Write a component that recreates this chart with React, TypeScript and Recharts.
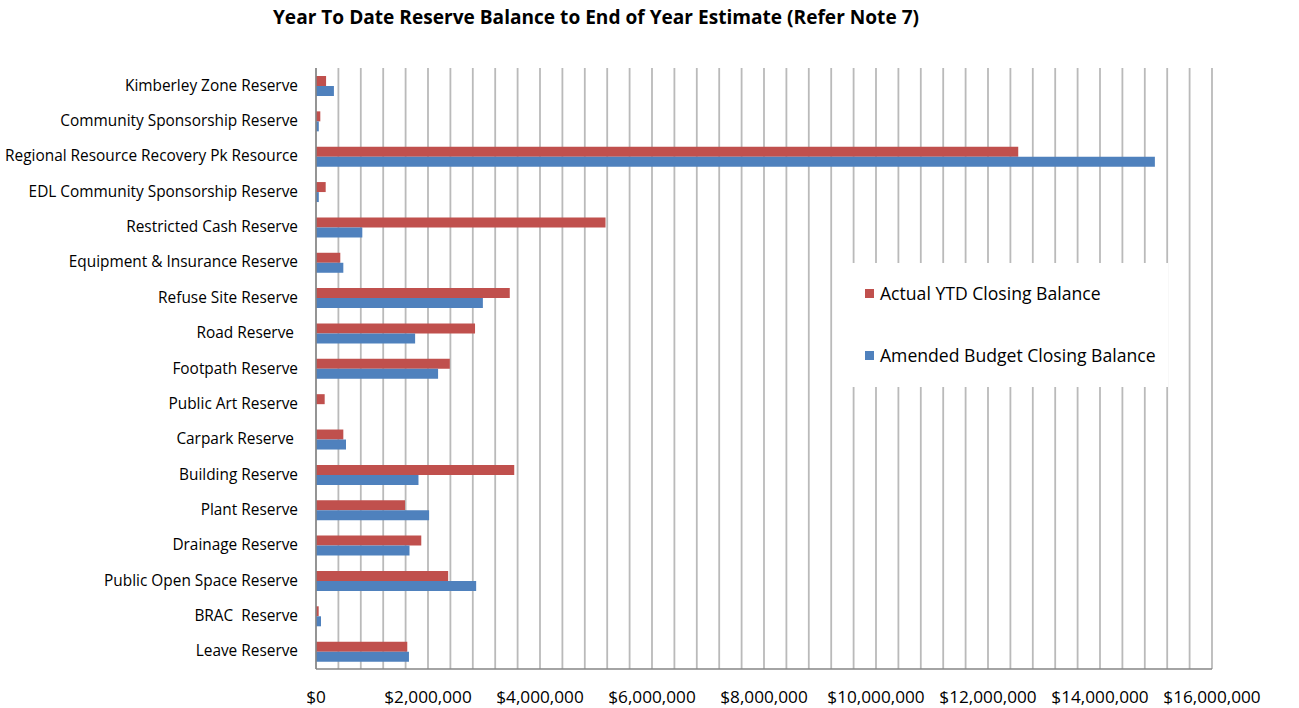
import React from "react";
import { BarChart, Bar, XAxis, YAxis, CartesianGrid } from "recharts";

const categories = [
  "Kimberley Zone Reserve",
  "Community Sponsorship Reserve",
  "Regional Resource Recovery Pk Resource",
  "EDL Community Sponsorship Reserve",
  "Restricted Cash Reserve",
  "Equipment & Insurance Reserve",
  "Refuse Site Reserve",
  "Road Reserve ",
  "Footpath Reserve",
  "Public Art Reserve",
  "Carpark Reserve ",
  "Building Reserve",
  "Plant Reserve",
  "Drainage Reserve",
  "Public Open Space Reserve",
  "BRAC  Reserve",
  "Leave Reserve",
];

const actualYTD = [
  180000, 77000, 12540000, 173000, 5170000, 434000, 3460000, 2840000, 2390000,
  155000, 488000, 3540000, 1590000, 1880000, 2360000, 48000, 1630000,
];

const amendedBudget = [
  320000, 50000, 14980000, 50000, 827000, 488000, 2980000, 1770000, 2180000,
  0, 536000, 1830000, 2020000, 1670000, 2860000, 89000, 1660000,
];

const labelTicks = [0, 2000000, 4000000, 6000000, 8000000, 10000000, 12000000, 14000000, 16000000];
const gridStep = 400000;
const xMax = 16000000;
const gridTicks: number[] = [];
for (let v = 0; v <= xMax; v += gridStep) gridTicks.push(v);

const seriesNames = ["Actual YTD Closing Balance", "Amended Budget Closing Balance"];
const RED = "#C0504D";
const BLUE = "#4F81BD";
const FONT = "'Open Sans', sans-serif";

const data = categories.map((c, i) => ({
  name: c,
  actual: actualYTD[i],
  amended: amendedBudget[i],
}));

const fmt = (v: number) => "$" + v.toLocaleString("en-US");

const XTick = (props: any) => {
  const { x, y, payload } = props;
  if (!labelTicks.includes(payload.value)) return null;
  return (
    <text x={x} y={y + 26} textAnchor="middle" fontSize={17.2} fontFamily={FONT} fill="#000">
      {fmt(payload.value)}
    </text>
  );
};

const YTick = (props: any) => {
  const { y, payload } = props;
  return (
    <text x={298} y={y + 5} textAnchor="end" fontSize={15.4} fontFamily={FONT} fill="#000" style={{ whiteSpace: "pre" }}>
      {payload.value}
    </text>
  );
};

export default function App() {
  return (
    <div style={{ position: "absolute", left: 0, top: 0, width: 1299, height: 708, background: "#fff" }}>
      <div
        style={{
          position: "absolute",
          left: 0,
          width: 1192,
          top: 4,
          textAlign: "center",
          fontFamily: FONT,
          fontWeight: 700,
          fontSize: 19.1,
          color: "#000",
          whiteSpace: "nowrap",
        }}
      >
        Year To Date Reserve Balance to End of Year Estimate (Refer Note 7)
      </div>
      <BarChart
        width={1299}
        height={708}
        data={data}
        layout="vertical"
        margin={{ top: 68, right: 87, left: 0, bottom: 0 }}
        barGap={0}
        barSize={10}
      >
        <CartesianGrid horizontal={false} vertical={true} stroke="#BABABA" strokeWidth={1.8} />
        <XAxis
          type="number"
          domain={[0, xMax]}
          ticks={gridTicks}
          interval={0}
          height={39}
          tick={<XTick />}
          tickLine={false}
          axisLine={{ stroke: "#868686", strokeWidth: 1.5 }}
        />
        <YAxis
          type="category"
          dataKey="name"
          width={316}
          tick={<YTick />}
          tickLine={false}
          interval={0}
          axisLine={{ stroke: "#868686", strokeWidth: 1.5 }}
        />
        <Bar dataKey="actual" name={seriesNames[0]} fill={RED} isAnimationActive={false} />
        <Bar dataKey="amended" name={seriesNames[1]} fill={BLUE} isAnimationActive={false} />
      </BarChart>
      <div
        style={{
          position: "absolute",
          left: 843,
          top: 263,
          width: 325,
          height: 124,
          background: "#fff",
          fontFamily: FONT,
          fontSize: 17.6,
          color: "#000",
        }}
      >
        {[RED, BLUE].map((c, i) => (
          <div
            key={i}
            style={{ position: "absolute", left: 22, top: 18 + i * 62, display: "flex", alignItems: "center", whiteSpace: "nowrap" }}
          >
            <span style={{ display: "inline-block", width: 9, height: 9, background: c, marginRight: 6 }} />
            <span>{seriesNames[i]}</span>
          </div>
        ))}
      </div>
    </div>
  );
}
